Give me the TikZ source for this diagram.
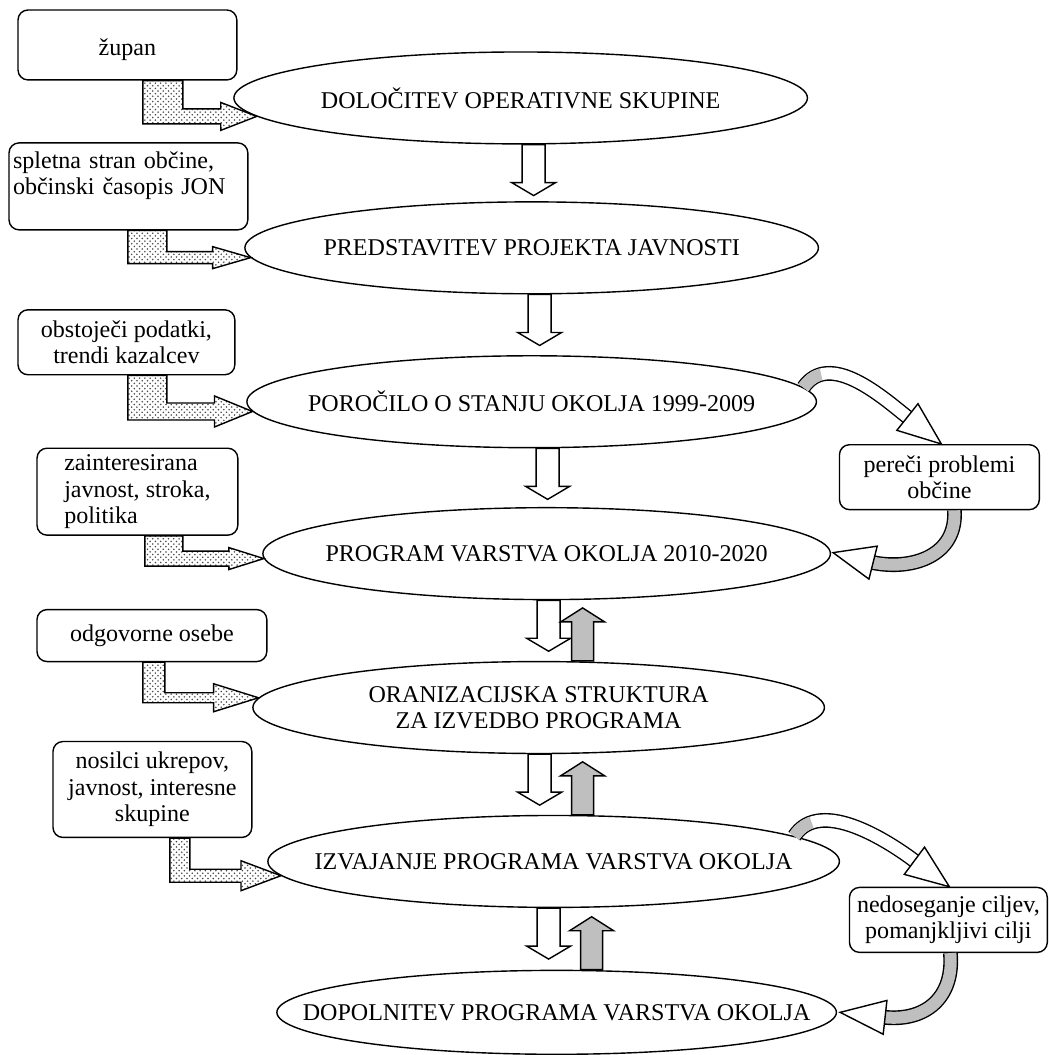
\documentclass[tikz,border=0pt]{standalone}
\usepackage{fontspec}
\setmainfont{Liberation Serif}
\usetikzlibrary{shapes.geometric, patterns, calc}

\tikzstyle{stage} = [ellipse, draw=black, line width=0.8pt, minimum height=1.84cm, inner xsep=-2.5cm, inner ysep=0pt, align=center]
\tikzstyle{sourcebox} = [rectangle, rounded corners=0.2cm, draw=black, line width=0.8pt, inner sep=0.08cm]
\tikzstyle{bent} = [draw=black, line width=0.8pt, pattern=crosshatch dots, pattern color=black!70]
\tikzstyle{downblock} = [draw=black, fill=white, line width=0.8pt]
\tikzstyle{upblock} = [draw=black, fill=gray!50, line width=0.8pt]
\tikzstyle{band} = [line width=0.8pt, double=white, double distance=0.24cm]
\tikzstyle{grayband} = [band, double=gray!50]
\tikzstyle{tail} = [line width=0.24cm, gray!50, dash pattern=on 0.45cm off 30cm]
\tikzstyle{bandhead} = [draw=black, fill=white, line width=0.8pt]

\begin{document}
\begin{tikzpicture}[x=0.02cm, y=-0.02cm, font=\fontsize{13.7pt}{15.1pt}\selectfont]
		\fill[white] (0,0) rectangle (1049,1055);
		% Nodes
		\node (dolocitev) [stage, minimum width=11.48cm] at (521,98) {DOLOČITEV OPERATIVNE SKUPINE};
		\node (predstavitev) [stage, minimum width=11.48cm] at (532,248) {PREDSTAVITEV PROJEKTA JAVNOSTI};
		\node (porocilo) [stage, minimum width=11.4cm] at (532,402) {POROČILO O STANJU OKOLJA 1999-2009};
		\node (programvarstva) [stage, minimum width=11.36cm] at (547,554) {PROGRAM VARSTVA OKOLJA 2010-2020};
		\node (organizacija) [stage, minimum width=11.44cm] at (539,708) {ORANIZACIJSKA STRUKTURA\\ZA IZVEDBO PROGRAMA};
		\node (izvajanje) [stage, minimum width=11.44cm] at (554,862) {IZVAJANJE PROGRAMA VARSTVA OKOLJA};
		\node (dopolnitev) [stage, minimum width=11.2cm, minimum height=1.68cm] at (557,1013) {DOPOLNITEV PROGRAMA VARSTVA OKOLJA};

		\node (zupan) [sourcebox, minimum width=4.38cm, minimum height=1.4cm, align=center] at (127.5,45) {\mbox{}\\župan};
		\node (spletna) [sourcebox, text width=4.62cm, minimum height=1.74cm, align=left] at (128.5,186.5) {spletna stran občine,\\občinski časopis JON\\\mbox{}};
		\node (obstojeci) [sourcebox, minimum width=4.34cm, minimum height=1.3cm, align=center] at (126.5,342.5) {obstoječi podatki,\\trendi kazalcev};
		\node (zainteresirana) [sourcebox, minimum width=4.02cm, minimum height=1.74cm, align=left] at (137.5,492) {zainteresirana\\javnost, stroka,\\politika};
		\node (odgovorne) [sourcebox, minimum width=4.6cm, minimum height=1.04cm, align=center] at (152,636) {odgovorne osebe};
		\node (nosilci) [sourcebox, minimum width=3.98cm, minimum height=1.92cm, align=center] at (152.5,790) {nosilci ukrepov,\\javnost, interesne\\skupine};

		\node (pereci) [sourcebox, minimum width=4cm, minimum height=1.3cm, align=center] at (940,477.5) {pereči problemi\\občine};
		\node (nedoseganje) [sourcebox, minimum width=3.96cm, minimum height=1.3cm, align=center] at (949,920.5) {nedoseganje ciljev,\\pomanjkljivi cilji};

		% Input arrows
		\draw[bent] ($(zupan.south)+(15.5,0)$) coordinate (z1) -- ++(40,0) |- ($(dolocitev.184)+(-36,-7.5)$) -- ++(0,-6.5) -- (dolocitev.184) -- ++(-36,14) -- ++(0,-6.5) -| (z1) -- cycle;
		\draw[bent] ($(spletna.south)+(-0.5,0)$) coordinate (z2) -- ++(39,0) |- ($(predstavitev.182)+(-38,-6)$) -- ++(0,-5) -- (predstavitev.182) -- ++(-38,11) -- ++(0,-5) -| (z2) -- cycle;
		\draw[bent] ($(obstojeci.south)+(1.5,0)$) coordinate (z3) -- ++(39,0) |- ($(porocilo.182)+(-38,-8.5)$) -- ++(0,-7) -- (porocilo.182) -- ++(-38,15.5) -- ++(0,-7) -| (z3) -- cycle;
		\draw[bent] ($(zainteresirana.south)+(7.5,0)$) coordinate (z4) -- ++(38,0) |- ($(programvarstva.181)+(-35,-7.5)$) -- ++(0,-3.5) -- (programvarstva.181) -- ++(-35,11) -- ++(0,-3.5) -| (z4) -- cycle;
		\draw[bent] ($(odgovorne.south)+(-9,0)$) coordinate (z5) -- ++(22,0) |- ($(organizacija.178)+(-45,-5)$) -- ++(0,-9) -- (organizacija.178) -- ++(-45,14) -- ++(0,-9) -| (z5) -- cycle;
		\draw[bent] ($(nosilci.south)+(17.5,0)$) coordinate (z6) -- ++(20,0) |- ($(izvajanje.183)+(-40,-6.5)$) -- ++(0,-8.5) -- (izvajanje.183) -- ++(-40,15) -- ++(0,-8.5) -| (z6) -- cycle;

		% Flow arrows
		\draw[downblock] ($(dolocitev.south)+(13,0)$) ++(-11.5,0) -- ++(0,38) -- ++(-10.5,0) -- ++(22,13) -- ++(22,-13) -- ++(-10.5,0) -- ++(0,-38) -- cycle;
		\draw[downblock] ($(predstavitev.south)+(8,0)$) ++(-11.5,0) -- ++(0,38) -- ++(-10.5,0) -- ++(22,13) -- ++(22,-13) -- ++(-10.5,0) -- ++(0,-38) -- cycle;
		\draw[downblock] ($(porocilo.south)+(16,0)$) ++(-11.5,0) -- ++(0,38) -- ++(-10.5,0) -- ++(22,13) -- ++(22,-13) -- ++(-10.5,0) -- ++(0,-38) -- cycle;
		\draw[downblock] ($(programvarstva.south)+(2,0)$) ++(-11.5,0) -- ++(0,38) -- ++(-10.5,0) -- ++(22,13) -- ++(22,-13) -- ++(-10.5,0) -- ++(0,-38) -- cycle;
		\draw[downblock] ($(organizacija.south)+(1,0)$) ++(-11.5,0) -- ++(0,38) -- ++(-10.5,0) -- ++(22,13) -- ++(22,-13) -- ++(-10.5,0) -- ++(0,-38) -- cycle;
		\draw[downblock] ($(izvajanje.south)+(-5,0)$) ++(-11.5,0) -- ++(0,38) -- ++(-10.5,0) -- ++(22,13) -- ++(22,-13) -- ++(-10.5,0) -- ++(0,-38) -- cycle;
		\draw[upblock] ($(organizacija.north)+(44,0)$) ++(-11,0) -- ++(0,-39) -- ++(-11,0) -- ++(22,-14) -- ++(22,14) -- ++(-11,0) -- ++(0,39) -- cycle;
		\draw[upblock] ($(izvajanje.north)+(29,0)$) ++(-11,0) -- ++(0,-39) -- ++(-11,0) -- ++(22,-14) -- ++(22,14) -- ++(-11,0) -- ++(0,39) -- cycle;
		\draw[upblock] ($(dopolnitev.north)+(35,0)$) ++(-11,0) -- ++(0,-39) -- ++(-11,0) -- ++(22,-14) -- ++(22,14) -- ++(-11,0) -- ++(0,39) -- cycle;

		% Feedback arrows
		\coordinate (c1tip) at ($(pereci.north)+(2,0)$);
		\coordinate (c1base) at ($(c1tip)+(-34,-27)$);
		\draw[band] (porocilo.3) .. controls +(26,-38) and +(-24,-19) .. (c1base);
		\draw[tail] (porocilo.3) .. controls +(26,-38) and +(-24,-19) .. (c1base);
		\draw[bandhead] ($(c1base)!0.34cm!90:(c1tip)$) -- (c1tip) -- ($(c1base)!0.34cm!-90:(c1tip)$) -- cycle;

		\coordinate (c2tip) at ($(programvarstva.east)+(2,-1)$);
		\coordinate (c2base) at ($(c2tip)+(40,10)$);
		\draw[grayband] ($(pereci.south)+(15,0)$) .. controls +(3,45) and +(40,8) .. (c2base);
		\draw[bandhead] ($(c2base)!0.34cm!90:(c2tip)$) -- (c2tip) -- ($(c2base)!0.34cm!-90:(c2tip)$) -- cycle;

		\coordinate (c3tip) at ($(nedoseganje.north)+(1,0)$);
		\coordinate (c3base) at ($(c3tip)+(-35,-26)$);
		\draw[band] (izvajanje.6) .. controls +(26,-40) and +(-24,-18) .. (c3base);
		\draw[tail] (izvajanje.6) .. controls +(26,-40) and +(-24,-18) .. (c3base);
		\draw[bandhead] ($(c3base)!0.34cm!90:(c3tip)$) -- (c3tip) -- ($(c3base)!0.34cm!-90:(c3tip)$) -- cycle;

		\coordinate (c4tip) at ($(dopolnitev.east)+(3,0)$);
		\coordinate (c4base) at ($(c4tip)+(45,5)$);
		\draw[grayband] ($(nedoseganje.south)+(2,0)$) .. controls +(4,45) and +(40,4) .. (c4base);
		\draw[bandhead] ($(c4base)!0.34cm!90:(c4tip)$) -- (c4tip) -- ($(c4base)!0.34cm!-90:(c4tip)$) -- cycle;
	\end{tikzpicture}
\end{document}
